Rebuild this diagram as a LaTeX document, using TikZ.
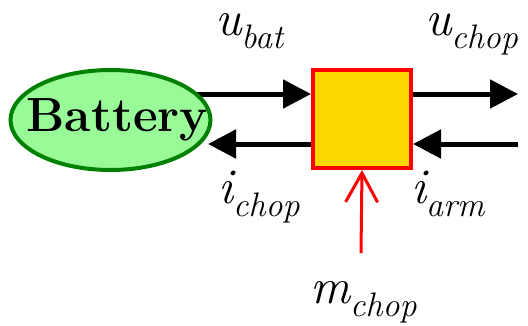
\documentclass[tikz,border=0pt]{standalone}
\usepackage{fontspec}
\newcommand{\tms}{\rmfamily}
\usetikzlibrary{arrows.meta,shapes.geometric}
\definecolor{batfill}{HTML}{98FB98}
\definecolor{batline}{HTML}{008000}
\definecolor{boxfill}{HTML}{FFD700}
\tikzset{
  blk/.style={line width=5pt, -{Triangle[length=28pt,width=28pt]}},
  ctl/.style={line width=3pt, red, -{Straight Barb[length=29pt,width=32pt,line width=3pt]}},
  lbl/.style={inner sep=0pt, anchor=base west, font=\tms},
}
\newcommand{\mainsz}{\tms\fontsize{50}{50}\selectfont\itshape}
\newcommand{\subsz}{\tms\fontsize{34}{34}\selectfont\itshape}
\newcommand{\lab}[2]{\smash{{\mainsz #1}\raisebox{-13pt}{\subsz #2}}}
\begin{document}
\begin{tikzpicture}[x=1pt,y=-1pt]
\useasboundingbox (0,0) rectangle (528,325);
% chopper box
\node[draw=red, fill=boxfill, line width=4pt, minimum size=98pt, inner sep=0pt] (box) at (362,119) {};
\path (box.west) ++(0,-25) coordinate (bw1);
\path (box.west) ++(0,25) coordinate (bw2);
\path (box.east) ++(0,-25) coordinate (be1);
\path (box.east) ++(0,25) coordinate (be2);
\coordinate (bstart) at (110,94);
\coordinate (btip) at (208,144);
\coordinate (oout) at (518,94);
\coordinate (oin) at (518,144);
\coordinate (mstart) at (361,253);
% arrows
\draw[blk] (bstart) -- (bw1);
\draw[blk] (bw2) -- (btip);
\draw[blk] (be1) -- (oout);
\draw[blk] (oin) -- (be2);
% battery
\node[ellipse, draw=batline, fill=batfill, line width=4pt, minimum width=200pt, minimum height=100pt, inner sep=0pt] (bat) at (110.5,120)
  {\makebox[0pt]{\hspace*{14pt}\bfseries\fontsize{48}{48}\selectfont Battery}};
% control input
\draw[ctl] (mstart) -- (box.south);
% labels
\node[lbl] (ubat) at (215,35) {\lab{u}{bat}};
\node[lbl] (uchop) at (425,35) {\lab{u}{chop}};
\node[lbl] (ichop) at (218,203) {\lab{i}{chop}};
\node[lbl] (iarm) at (411,203) {\lab{i}{arm}};
\node[lbl] (mchop) at (310,303) {\lab{m}{chop}};
\end{tikzpicture}
\end{document}
